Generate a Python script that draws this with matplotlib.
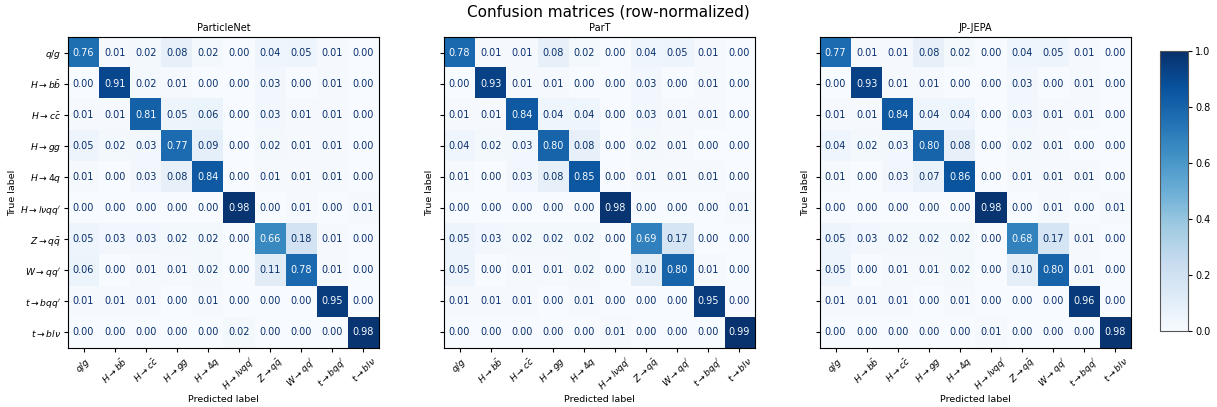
import matplotlib
matplotlib.use('Agg')
import matplotlib.pyplot as plt
import numpy as np

# class labels (same order on both axes)
class_labels = [r"$q/g$", r"$H\rightarrow b\bar{b}$", r"$H\rightarrow c\bar{c}$",
                r"$H\rightarrow gg$", r"$H\rightarrow 4q$", r"$H\rightarrow l\nu qq'$",
                r"$Z\rightarrow q\bar{q}$", r"$W\rightarrow qq'$", r"$t\rightarrow bqq'$",
                r"$t\rightarrow bl\nu$"]

model_names = ["ParticleNet", "ParT", "JP-JEPA"]

cm_particlenet = [
    [0.76, 0.01, 0.02, 0.08, 0.02, 0.00, 0.04, 0.05, 0.01, 0.00],
    [0.00, 0.91, 0.02, 0.01, 0.00, 0.00, 0.03, 0.00, 0.01, 0.00],
    [0.01, 0.01, 0.81, 0.05, 0.06, 0.00, 0.03, 0.01, 0.01, 0.00],
    [0.05, 0.02, 0.03, 0.77, 0.09, 0.00, 0.02, 0.01, 0.01, 0.00],
    [0.01, 0.00, 0.03, 0.08, 0.84, 0.00, 0.01, 0.01, 0.01, 0.00],
    [0.00, 0.00, 0.00, 0.00, 0.00, 0.98, 0.00, 0.01, 0.00, 0.01],
    [0.05, 0.03, 0.03, 0.02, 0.02, 0.00, 0.66, 0.18, 0.01, 0.00],
    [0.06, 0.00, 0.01, 0.01, 0.02, 0.00, 0.11, 0.78, 0.01, 0.00],
    [0.01, 0.01, 0.01, 0.00, 0.01, 0.00, 0.00, 0.00, 0.95, 0.00],
    [0.00, 0.00, 0.00, 0.00, 0.00, 0.02, 0.00, 0.00, 0.00, 0.98],
]

cm_part = [
    [0.78, 0.01, 0.01, 0.08, 0.02, 0.00, 0.04, 0.05, 0.01, 0.00],
    [0.00, 0.93, 0.01, 0.01, 0.00, 0.00, 0.03, 0.00, 0.01, 0.00],
    [0.01, 0.01, 0.84, 0.04, 0.04, 0.00, 0.03, 0.01, 0.01, 0.00],
    [0.04, 0.02, 0.03, 0.80, 0.08, 0.00, 0.02, 0.01, 0.00, 0.00],
    [0.01, 0.00, 0.03, 0.08, 0.85, 0.00, 0.01, 0.01, 0.01, 0.00],
    [0.00, 0.00, 0.00, 0.00, 0.00, 0.98, 0.00, 0.00, 0.00, 0.01],
    [0.05, 0.03, 0.02, 0.02, 0.02, 0.00, 0.69, 0.17, 0.00, 0.00],
    [0.05, 0.00, 0.01, 0.01, 0.02, 0.00, 0.10, 0.80, 0.01, 0.00],
    [0.01, 0.01, 0.01, 0.00, 0.01, 0.00, 0.00, 0.00, 0.95, 0.00],
    [0.00, 0.00, 0.00, 0.00, 0.00, 0.01, 0.00, 0.00, 0.00, 0.99],
]

cm_jpjepa = [
    [0.77, 0.01, 0.01, 0.08, 0.02, 0.00, 0.04, 0.05, 0.01, 0.00],
    [0.00, 0.93, 0.01, 0.01, 0.00, 0.00, 0.03, 0.00, 0.01, 0.00],
    [0.01, 0.01, 0.84, 0.04, 0.04, 0.00, 0.03, 0.01, 0.01, 0.00],
    [0.04, 0.02, 0.03, 0.80, 0.08, 0.00, 0.02, 0.01, 0.00, 0.00],
    [0.01, 0.00, 0.03, 0.07, 0.86, 0.00, 0.01, 0.01, 0.01, 0.00],
    [0.00, 0.00, 0.00, 0.00, 0.00, 0.98, 0.00, 0.01, 0.00, 0.01],
    [0.05, 0.03, 0.02, 0.02, 0.02, 0.00, 0.68, 0.17, 0.01, 0.00],
    [0.05, 0.00, 0.01, 0.01, 0.02, 0.00, 0.10, 0.80, 0.01, 0.00],
    [0.01, 0.01, 0.01, 0.00, 0.01, 0.00, 0.00, 0.00, 0.96, 0.00],
    [0.00, 0.00, 0.00, 0.00, 0.00, 0.01, 0.00, 0.00, 0.00, 0.98],
]

matrices = [cm_particlenet, cm_part, cm_jpjepa]

# =====================================================================
# figure + axes placed in pixel units of a 1217x407 canvas
# =====================================================================
W, H = 1217, 407
fig = plt.figure(figsize=(W / 100, H / 100), dpi=100)

cmap = plt.get_cmap("Blues")
lefts = [68, 444, 820]
ax_w, ax_top, ax_bot = 311, 37, 348
tick_fs = 6.6

im = None
for i, (name, cm) in enumerate(zip(model_names, matrices)):
    cm = np.array(cm)
    ax = fig.add_axes([lefts[i] / W, (H - ax_bot) / H, ax_w / W, (ax_bot - ax_top) / H])
    im = ax.imshow(cm, cmap=cmap, vmin=0, vmax=1, aspect="auto")
    n = cm.shape[0]
    thresh = (cm.max() + cm.min()) / 2.0
    for r in range(n):
        for c in range(n):
            color = cmap(0.0) if cm[r, c] > thresh else cmap(1.0)
            ax.text(c, r, f"{cm[r, c]:.2f}", ha="center", va="center",
                    color=color, fontsize=7)
    ax.set_xticks(range(n))
    ax.set_yticks(range(n))
    ax.set_xticklabels(class_labels, rotation=45, fontsize=tick_fs)
    if i == 0:
        ax.set_yticklabels(class_labels, fontsize=tick_fs)
    else:
        ax.set_yticklabels([])
    ax.tick_params(length=3, pad=2)
    ax.set_xlabel("Predicted label", fontsize=6.8, labelpad=1)
    ax.set_ylabel("True label", fontsize=6.8, labelpad=2)
    ax.set_title(name, fontsize=7, pad=4)

cax = fig.add_axes([1160 / W, (H - 331) / H, 28 / W, 280 / H])
cb = fig.colorbar(im, cax=cax)
cb.set_ticks([0.0, 0.2, 0.4, 0.6, 0.8, 1.0])
cb.ax.tick_params(labelsize=7, length=3, pad=2)
cb.outline.set_edgecolor("#555555")

fig.suptitle("Confusion matrices (row-normalized)", fontsize=11, y=1 - 12 / H, va="center")

plt.savefig("out.png", dpi=100)
plt.close()
print("Saved: out.png")
